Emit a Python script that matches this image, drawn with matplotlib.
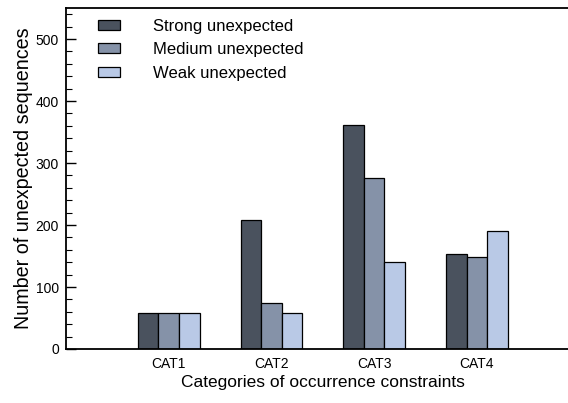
import matplotlib.pyplot as plt
import numpy as np

plt.rcParams['font.family'] = ['Liberation Sans', 'DejaVu Sans']

categories = ['CAT1', 'CAT2', 'CAT3', 'CAT4']
strong = [58, 208, 362, 154]
medium = [58, 75, 276, 148]
weak = [58, 58, 141, 190]
series_names = ['Strong unexpected', 'Medium unexpected', 'Weak unexpected']
colors = ['#4a525e', '#8592a8', '#b9c9e6']

fig = plt.figure(figsize=(5.68, 4.03), dpi=100)
# right edge of the frame runs past the figure border
ax = fig.add_axes([0.1162, 0.134, 0.904, 0.846])

x = np.arange(1, len(categories) + 1)
w = 0.2
for i, (vals, name, c) in enumerate(zip([strong, medium, weak], series_names, colors)):
    ax.bar(x + (i - 1) * w, vals, w, color=c, edgecolor='black', linewidth=0.9, label=name)

ax.set_xlim(0, 5)
ax.set_ylim(0, 550)
ax.set_xticks(x)
ax.set_xticklabels(categories, fontsize=10)
ax.tick_params(axis='x', length=0, pad=6)
ax.set_yticks(np.arange(0, 501, 100))
ax.set_yticks(np.arange(0, 551, 20), minor=True)
ax.tick_params(axis='y', which='major', direction='in', length=7, width=1, labelsize=10, pad=5)
ax.tick_params(axis='y', which='minor', direction='in', length=4, width=0.8)
ax.spines['right'].set_visible(False)
for s in ['left', 'top', 'bottom']:
    ax.spines[s].set_linewidth(1.3)

ax.set_xlabel('Categories of occurrence constraints', fontsize=12.5, labelpad=3)
ax.set_ylabel('Number of unexpected sequences', fontsize=14.2, labelpad=2)

ax.legend(loc='upper left', bbox_to_anchor=(0.033, 1.012), frameon=False, fontsize=12,
          handlelength=1.35, handleheight=0.55, handletextpad=1.95, labelspacing=0.5)

fig.savefig('out.png', dpi=100)
